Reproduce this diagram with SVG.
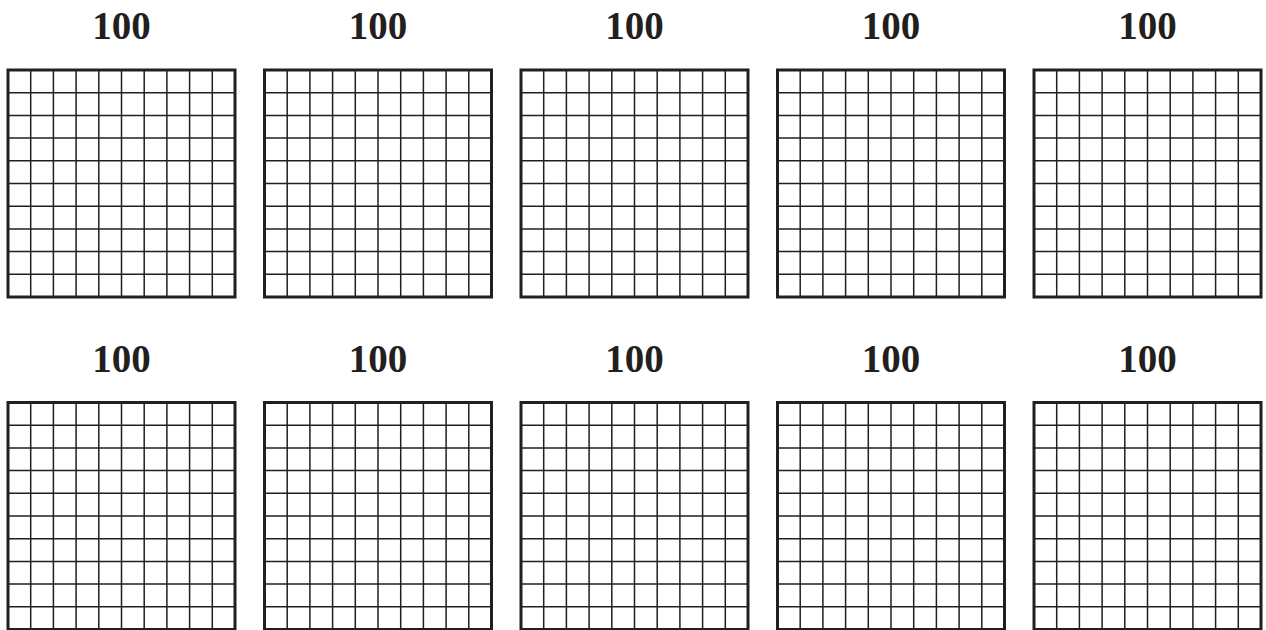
<svg xmlns="http://www.w3.org/2000/svg" xmlns:xlink="http://www.w3.org/1999/xlink" width="1266" height="630" viewBox="0 0 1266 630">
<style>
.lbl{font-family:"Liberation Serif",serif;font-weight:bold;font-size:39px;fill:#231f20;text-anchor:middle}
.inner{fill:none;stroke:#231f20;stroke-width:1.5}
.outer{fill:none;stroke:#231f20;stroke-width:3}
</style>
<defs>
<g id="grid">
<path class="inner" d="M22.7 0V227M45.4 0V227M68.1 0V227M90.8 0V227M113.5 0V227M136.2 0V227M158.9 0V227M181.6 0V227M204.3 0V227M0 22.7H227M0 45.4H227M0 68.1H227M0 90.8H227M0 113.5H227M0 136.2H227M0 158.9H227M0 181.6H227M0 204.3H227"/>
<rect class="outer" x="0" y="0" width="227" height="227"/>
</g>
</defs>
<rect width="1266" height="630" fill="#fff"/>
<g id="n1"><text class="lbl" x="121.5" y="39">100</text><use xlink:href="#grid" transform="translate(8,70)"/></g>
<g id="n2"><text class="lbl" x="378" y="39">100</text><use xlink:href="#grid" transform="translate(264.5,70)"/></g>
<g id="n3"><text class="lbl" x="634.5" y="39">100</text><use xlink:href="#grid" transform="translate(521,70)"/></g>
<g id="n4"><text class="lbl" x="891" y="39">100</text><use xlink:href="#grid" transform="translate(777.5,70)"/></g>
<g id="n5"><text class="lbl" x="1147.5" y="39">100</text><use xlink:href="#grid" transform="translate(1034,70)"/></g>
<g id="n6"><text class="lbl" x="121.5" y="371.5">100</text><use xlink:href="#grid" transform="translate(8,402.5)"/></g>
<g id="n7"><text class="lbl" x="378" y="371.5">100</text><use xlink:href="#grid" transform="translate(264.5,402.5)"/></g>
<g id="n8"><text class="lbl" x="634.5" y="371.5">100</text><use xlink:href="#grid" transform="translate(521,402.5)"/></g>
<g id="n9"><text class="lbl" x="891" y="371.5">100</text><use xlink:href="#grid" transform="translate(777.5,402.5)"/></g>
<g id="n10"><text class="lbl" x="1147.5" y="371.5">100</text><use xlink:href="#grid" transform="translate(1034,402.5)"/></g>
<g id="connectors"/>
</svg>
